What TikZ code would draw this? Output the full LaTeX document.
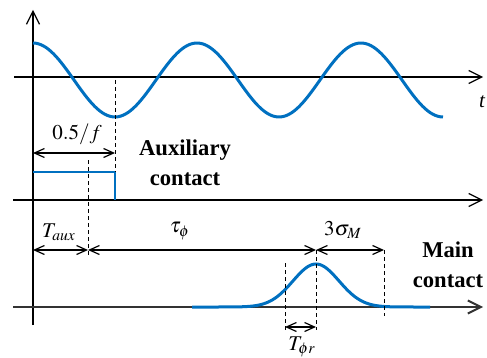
\documentclass[tikz,border=0pt]{standalone}
\usepackage{mathptmx}
\usepackage{fontspec}
\setmainfont{Liberation Serif}
\usetikzlibrary{arrows.meta}

\definecolor{wblue}{RGB}{0,112,192}

\tikzset{
    axis/.style={line width=0.6pt, -{Straight Barb[length=6.5pt,width=6.5pt]}},
    wave/.style={line width=1.5pt, wblue},
    guide/.style={line width=0.5pt, dash pattern=on 2pt off 1.5pt},
    span/.style={line width=0.6pt, {Straight Barb[length=5pt,width=4.5pt]}-{Straight Barb[length=5pt,width=4.5pt]}},
    lbl/.style={font=\fontsize{10.5}{12}\selectfont, inner sep=1pt},
    tag/.style={font=\fontsize{11.3}{15}\selectfont\bfseries, align=center, inner sep=1pt}
}

\begin{document}
\begin{tikzpicture}[x=0.5pt, y=-0.5pt]
\useasboundingbox (0,0) rectangle (487,358);

% Axes
\draw[line width=0.6pt, -{Straight Barb[length=6.5pt,width=6.5pt]}] (33,325) -- (33,10);
\draw[axis] (14,77) -- (483,77);
\draw[axis] (13,200) -- (483,200);
\draw[axis, gray!40!black, line width=1pt] (13,307) -- (483,307);
\node[lbl, font=\fontsize{10.5}{12}\selectfont\itshape] (t) at (482,102) {t};

% Current wave
\draw[wave] plot[domain=33:443, samples=160] (\x, {80-37*cos(2.19512*(\x-33))});

% Auxiliary contact
\coordinate (c0) at (33,172);
\coordinate (c1) at (115,172);
\coordinate (c2) at (115,200);
\draw[wave, line width=1.3pt] (c0) -- (c1) -- (c2);
\node[tag] (aux) at (185,163) {Auxiliary\\contact};

% Guides
\coordinate (g1) at (115,80);
\coordinate (g2) at (88,160);
\coordinate (g3) at (88,258);
\draw[guide] (g1) -- (c1);
\draw[guide] (g2) -- (g3);

% Half period
\coordinate (h0) at (33,153);
\coordinate (h1) at (115,153);
\draw[span] (h0) -- (h1);
\node[lbl] (half) at (77,134) {$0.5/f$};

% Main contact
\draw[wave] plot[domain=192:430, samples=120] (\x, {307-43*exp(-((\x-316)/23)^2/2)});
\node[tag] (main) at (448,265) {Main\\contact};

\coordinate (p1) at (316,250);
\coordinate (p2) at (316,330);
\coordinate (q1) at (285,263);
\coordinate (q2) at (285,332);
\coordinate (r1) at (384,250);
\coordinate (r2) at (384,316);
\draw[guide] (p1) -- (p2);
\draw[guide] (q1) -- (q2);
\draw[guide] (r1) -- (r2);

% Time spans
\coordinate (s0) at (33,250);
\coordinate (s1) at (88,250);
\draw[span] (s0) -- (s1);
\draw[span] (s1) -- (p1);
\draw[span] (p1) -- (r1);
\node[lbl] (taux) at (59,232) {$T_{aux}$};
\node[lbl] (tau) at (180,231) {$\tau_\phi$};
\node[lbl] (sig) at (343,230) {$3\sigma_M$};

\coordinate (u0) at (285,327);
\coordinate (u1) at (316,327);
\draw[span] (u0) -- (u1);
\node[lbl] (tr) at (302,347) {$T_{\phi r}$};

\end{tikzpicture}
\end{document}
